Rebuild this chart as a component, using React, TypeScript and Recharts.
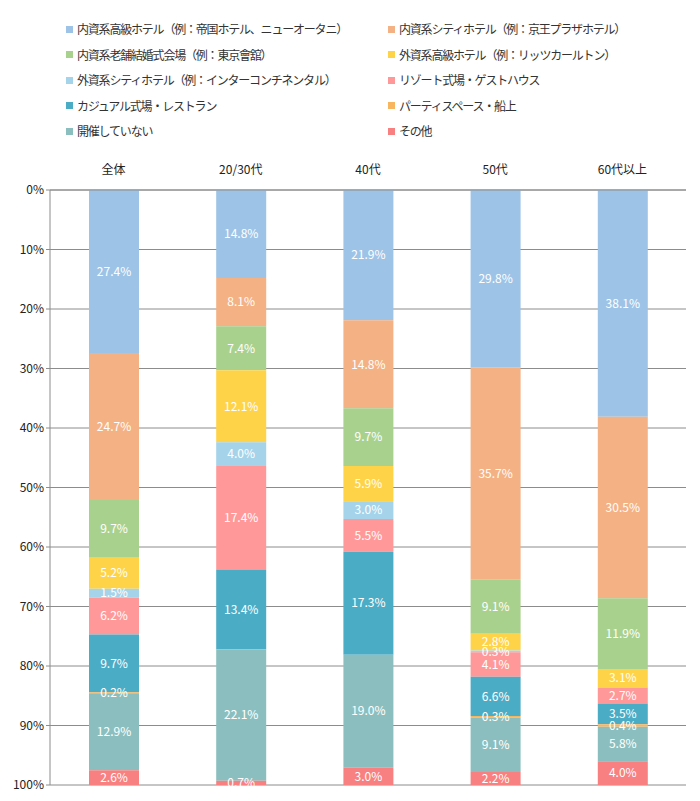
import React from "react";
import { BarChart, Bar, XAxis, YAxis, CartesianGrid, LabelList } from "recharts";

const categories = ["全体", "20/30代", "40代", "50代", "60代以上"];

const seriesNames = [
  "内資系高級ホテル（例：帝国ホテル、ニューオータニ）",
  "内資系シティホテル（例：京王プラザホテル）",
  "内資系老舗結婚式会場（例：東京會舘）",
  "外資系高級ホテル（例：リッツカールトン）",
  "外資系シティホテル（例：インターコンチネンタル）",
  "リゾート式場・ゲストハウス",
  "カジュアル式場・レストラン",
  "パーティスペース・船上",
  "開催していない",
  "その他",
];

const seriesColors = [
  "#9DC3E6",
  "#F4B183",
  "#A9D18E",
  "#FFD347",
  "#A5D3EA",
  "#FF9999",
  "#4BACC6",
  "#F9B55E",
  "#8BBFBF",
  "#F88080",
];

// rows: series, columns: categories
const s1 = [27.4, 14.8, 21.9, 29.8, 38.1];
const s2 = [24.7, 8.1, 14.8, 35.7, 30.5];
const s3 = [9.7, 7.4, 9.7, 9.1, 11.9];
const s4 = [5.2, 12.1, 5.9, 2.8, 3.1];
const s5 = [1.5, 4.0, 3.0, 0.3, 0];
const s6 = [6.2, 17.4, 5.5, 4.1, 2.7];
const s7 = [9.7, 13.4, 17.3, 6.6, 3.5];
const s8 = [0.2, 0, 0, 0.3, 0.4];
const s9 = [12.9, 22.1, 19.0, 9.1, 5.8];
const s10 = [2.6, 0.7, 3.0, 2.2, 4.0];

const seriesValues = [s1, s2, s3, s4, s5, s6, s7, s8, s9, s10];
const yTicks = [0, 10, 20, 30, 40, 50, 60, 70, 80, 90, 100];

const data = categories.map((name, i) => {
  const row: Record<string, number | string> = { name };
  seriesValues.forEach((vals, k) => {
    row["s" + k] = vals[i];
  });
  return row;
});

const FONT = '"Noto Sans CJK JP", "Noto Sans", sans-serif';

function Legend() {
  return (
    <div style={{ position: "absolute", left: 0, top: 0, width: 700, fontFamily: FONT, fontSize: 12, color: "#333" }}>
      {seriesNames.map((n, i) => {
        const col = i % 2;
        const row = Math.floor(i / 2);
        return (
          <div
            key={n}
            style={{
              position: "absolute",
              left: col === 0 ? 66 : 388,
              top: 20 + row * 25.6,
              display: "flex",
              alignItems: "center",
              whiteSpace: "nowrap",
              lineHeight: "18px",
              letterSpacing: "-1.2px",
            }}
          >
            <span style={{ width: 7, height: 7, background: seriesColors[i], display: "inline-block", marginRight: 4 }} />
            {n}
          </div>
        );
      })}
    </div>
  );
}

const pct = (v: any) => (v && v > 0 ? Number(v).toFixed(1) + "%" : "");

export default function App() {
  return (
    <div style={{ position: "absolute", left: 0, top: 0, width: 700, height: 801, background: "#fff" }}>
      <Legend />
      <div style={{ position: "absolute", left: 0, top: 0 }}>
        <BarChart
          width={700}
          height={801}
          data={data}
          margin={{ top: 160, right: 14, left: 10, bottom: 16 }}
          barSize={50}
        >
          <CartesianGrid vertical={false} stroke="#8c8c8c" />
          <XAxis
            dataKey="name"
            orientation="top"
            height={30}
            axisLine={{ stroke: "#8c8c8c" }}
            tickLine={false}
            tick={{ fontSize: 12, fill: "#222", fontFamily: FONT }}
            tickMargin={10}
          />
          <YAxis
            type="number"
            domain={[0, 100]}
            ticks={yTicks}
            reversed
            width={40}
            interval={0}
            tickFormatter={(v) => v + "%"}
            axisLine={{ stroke: "#8c8c8c" }}
            tickLine={{ stroke: "#8c8c8c" }}
            tickSize={4}
            tick={{ fontSize: 12, fill: "#222", fontFamily: FONT }}
            allowDataOverflow
          />
          {seriesNames.map((n, k) => (
            <Bar key={n} dataKey={"s" + k} name={n} stackId="a" fill={seriesColors[k]} isAnimationActive={false}>
              <LabelList
                dataKey={"s" + k}
                position="center"
                formatter={pct}
                fill="#fff"
                fontSize={12}
                fontFamily={FONT}
              />
            </Bar>
          ))}
        </BarChart>
      </div>
    </div>
  );
}
